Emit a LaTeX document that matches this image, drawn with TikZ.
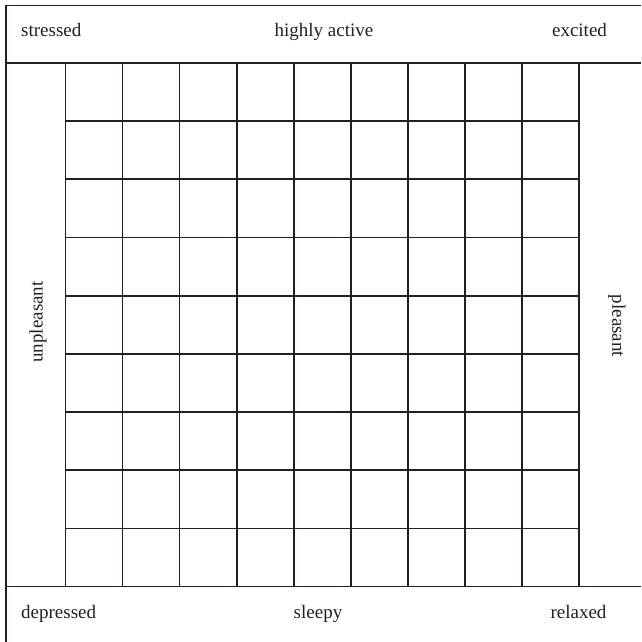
\documentclass[tikz,border=0pt]{standalone}
\usepackage{fontspec}
\setmainfont{Liberation Serif}
\definecolor{ink}{HTML}{231F20}
\begin{document}
\begin{tikzpicture}[x=1pt,y=-1pt,
  rule/.style={draw=ink,line width=1.7pt},
  lbl/.style={text=ink,font=\fontsize{19}{23}\selectfont,inner sep=0pt}]
\useasboundingbox (0,0) rectangle (641,642);
% outer frame (top and left edges)
\draw[rule] (6,5.5) -- (641,5.5);
\draw[rule] (6,5.5) -- (6,642);
% band separators
\draw[rule] (6,63) -- (641,63);
\draw[rule] (6,586.5) -- (641,586.5);
% grid
\foreach \i in {0,...,9}{
  \draw[rule] ({65.5+\i*57.06},63) -- ({65.5+\i*57.06},586.5);
}
\foreach \j in {1,...,8}{
  \draw[rule] (65.5,{63+\j*58.17}) -- (579,{63+\j*58.17});
}
% labels
\node[lbl,anchor=base west] (stressed) at (21,37) {stressed};
\node[lbl,anchor=base] (active) at (324,37) {highly active};
\node[lbl,anchor=base] (excited) at (579.5,37) {excited};
\node[lbl,anchor=base west] (depressed) at (21,618) {depressed};
\node[lbl,anchor=base] (sleepy) at (318,618) {sleepy};
\node[lbl,anchor=base] (relaxed) at (578.5,618) {relaxed};
\node[lbl,rotate=90] (unpleasant) at (38,322) {unpleasant};
\node[lbl,rotate=-90] (pleasant) at (617,326) {pleasant};
\end{tikzpicture}
\end{document}
